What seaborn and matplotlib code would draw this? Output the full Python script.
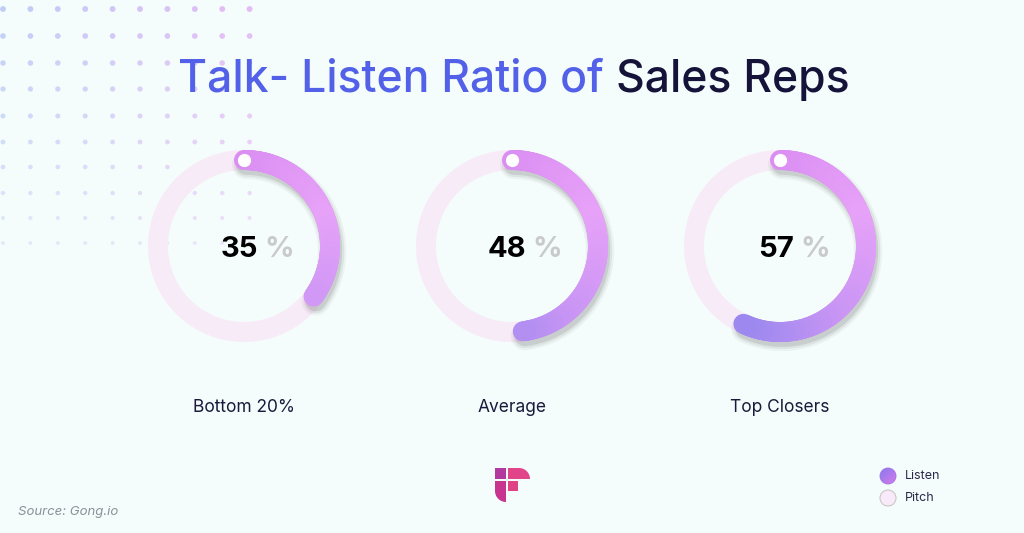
import numpy as np
import matplotlib
matplotlib.use("Agg")
import matplotlib.pyplot as plt
import matplotlib.patheffects as pe
from matplotlib.patches import Rectangle, Wedge, Circle
import seaborn as sns

# Dados do gráfico
categorias = ["Bottom 20%", "Average", "Top Closers"]
listen = [35, 48, 57]
titulo_azul = "Talk- Listen Ratio of "
titulo_escuro = "Sales Reps"
legenda = ["Listen", "Pitch"]
fonte = "Source: Gong.io"

sns.set_theme(style="white")
plt.rcParams["font.family"] = ["Inter", "DejaVu Sans"]

FUNDO = "#F4FDFB"
TRILHA = "#F8EBF8"
AZUL = "#5361E9"
ESCURO = "#15133A"
gradiente = sns.blend_palette(["#DA8EF2", "#E7A2F8", "#C995F4", "#9386EE"], n_colors=256)

W, H = 1024, 533
fig = plt.figure(figsize=(W / 100, H / 100), dpi=100, facecolor=FUNDO)

# Eixo de fundo em coordenadas de pixel
bg = fig.add_axes([0, 0, 1, 1])
bg.set_facecolor(FUNDO)

# Pontos decorativos
xs = np.arange(10) * 27.4 + 3
ys = np.array([9, 36, 63, 89, 116, 142, 167, 193, 218, 243])
cor_pontos = sns.blend_palette(["#BCC9F7", "#E3B5F4"], n_colors=len(xs))
for j, y in enumerate(ys):
    fade = 1 - j / len(ys)
    bg.scatter(xs, [y] * len(xs), s=18 * (0.35 + 0.65 * fade), c=cor_pontos,
               alpha=0.3 + 0.6 * fade, linewidths=0, zorder=1)

# Título em duas cores
t1 = bg.text(178, 92, titulo_azul, fontsize=32, color=AZUL, fontweight="medium",
             ha="left", va="baseline", zorder=5)
bg.annotate(titulo_escuro, xy=(1, 0), xycoords=t1, fontsize=32, color=ESCURO,
            fontweight="medium", ha="left", va="bottom", zorder=5)

# Donuts
centros_x = [244, 512, 780]
cy = 246
tam = 240
raio = 86 / (tam / 2)
lw = 20 * 0.72

for cx, valor, cat in zip(centros_x, listen, categorias):
    ax = fig.add_axes([(cx - tam / 2) / W, 1 - (cy + tam / 2) / H, tam / W, tam / H],
                      projection="polar")
    ax.set_theta_zero_location("N")
    ax.set_theta_direction(-1)
    ax.set_ylim(0, 1)
    ax.axis("off")
    ax.patch.set_alpha(0)

    cheio = np.linspace(0, 2 * np.pi, 300)
    ax.plot(cheio, [raio] * len(cheio), color=TRILHA, lw=lw, zorder=1)

    fim = valor / 100 * 2 * np.pi
    th = np.linspace(0, fim, 160)
    # sombra
    for k, a in [(0, 0.12), (3, 0.08), (6, 0.05)]:
        ax.plot(th, [raio] * len(th), color="none", lw=lw + k, solid_capstyle="round",
                path_effects=[pe.SimpleLineShadow(offset=(1.5, -3.5), shadow_color="#3a3a3a",
                                                  alpha=a)], zorder=2)
    # arco com gradiente
    for i in range(len(th) - 1):
        pos = min(th[i] / np.deg2rad(215), 1)
        cor = gradiente[int(pos * 255)]
        ax.plot(th[i:i + 2], [raio, raio], color=cor, lw=lw,
                solid_capstyle="round", zorder=3)
    ax.plot([0], [raio], "o", ms=8.5, color="white", zorder=4)

    bg.text(cx + 14, cy + 11, str(valor), fontsize=21, fontweight="bold", color="#000000",
            ha="right", va="baseline", zorder=5)
    bg.text(cx + 20, cy + 11, "%", fontsize=21, fontweight="bold", color="#C9CACA",
            ha="left", va="baseline", zorder=5)
    bg.text(cx, 412, cat, fontsize=12.5, color="#1B1A3C", ha="center", va="baseline")

# Logo
bg.add_patch(Rectangle((495, 468), 11, 11, color="#B23A9E", lw=0, zorder=3))
bg.add_patch(Rectangle((508, 468), 11, 11, color="#E2448A", lw=0, zorder=3))
bg.add_patch(Wedge((519, 479), 11, 270, 360, color="#E2448A", lw=0, zorder=3))
bg.add_patch(Rectangle((495, 481), 11, 10, color="#C7358F", lw=0, zorder=3))
bg.add_patch(Wedge((506, 491), 11, 90, 180, color="#C7358F", lw=0, zorder=3))
bg.add_patch(Rectangle((508, 481), 10, 10, color="#DF4386", lw=0, zorder=3))

# Legenda
grad = np.linspace(0, 1, 64)
img = np.add.outer(grad, grad) / 2
cmap = sns.blend_palette(["#8679EF", "#D67CE9"], as_cmap=True)
im = bg.imshow(img, cmap=cmap, extent=(880, 896, 484, 468), aspect="auto",
               interpolation="bilinear", zorder=3)
circ = Circle((888, 476), 8, transform=bg.transData)
im.set_clip_path(circ)
bg.add_patch(Circle((888, 476), 8, fill=False, edgecolor="#A070E0", lw=0.6, zorder=4))
bg.add_patch(Circle((888, 498), 8, facecolor="#F8EAF8", edgecolor="#C8C8C8", lw=0.8, zorder=3))
for y, nome in zip([476, 498], legenda):
    bg.text(905, y, nome, fontsize=9, color="#2B2A4A", ha="left", va="center")

bg.text(18, 512, fonte, fontsize=9.5, color="#8C9099", style="italic",
        ha="left", va="center")

bg.set_xlim(0, W)
bg.set_ylim(H, 0)
bg.axis("off")

fig.savefig("out.png", dpi=100, facecolor=FUNDO)
